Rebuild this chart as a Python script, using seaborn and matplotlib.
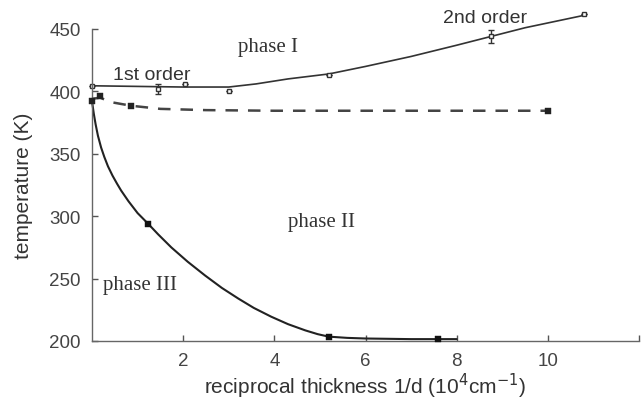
import numpy as np
import pandas as pd
import matplotlib
matplotlib.use("Agg")
import matplotlib.pyplot as plt
import seaborn as sns

# phase I / phase II boundary (solid, top)
upper_x = [0, 1, 2, 3, 3.6, 4.3, 5.2, 6, 7, 8, 8.75, 9.5, 10.8]
upper_y = [404.5, 404, 403.5, 403.5, 406, 410, 414, 420, 428, 437, 444, 451, 461]
upper_mx = [0, 1.45, 2.04, 3.0, 5.2, 8.75, 10.8]
upper_my = [404.5, 402, 406, 400.6, 413, 444, 462]
upper_err = [0, 4, 0, 0, 0, 5, 0]

# dashed boundary
dash_x = [0, 0.18, 0.4, 0.86, 1.5, 2.5, 4, 6, 8, 10]
dash_y = [394, 395, 391.5, 388.5, 386, 385, 384.5, 384.5, 384.5, 384.5]
dash_mx = [0, 0.18, 0.86, 10]
dash_my = [392.5, 396, 388.5, 384.5]

# phase II / phase III boundary
lower_x = [0, 0.04, 0.08, 0.13, 0.2, 0.27, 0.35, 0.45, 0.55, 0.64, 0.8, 1.0, 1.23, 1.45,
           1.74, 2.1, 2.48, 2.85, 3.21, 3.55, 3.93, 4.3, 4.68, 4.95, 5.19, 5.6, 6, 7, 8]
lower_y = [392, 382, 373.5, 364.5, 355, 347.5, 340, 332.5, 326, 320.5, 312, 302.5, 294, 285.5,
           275, 263.5, 252.5, 242.5, 234, 226.5, 219.5, 213.5, 208.5, 205.5, 203.5, 202.5, 202, 201.5, 201.5]
lower_mx = [1.23, 5.19, 7.6]
lower_my = [294, 203, 201.5]

xticks = [2, 4, 6, 8, 10, 12]
xtick_labels = ["2", "4", "6", "8", "10", ""]
yticks = [200, 250, 300, 350, 400, 450]

sns.set_style("ticks")
plt.rcParams["font.family"] = ["Liberation Sans", "DejaVu Sans"]

fig = plt.figure(figsize=(6.41, 4.06), dpi=100)
ax = fig.add_axes([92 / 641, 1 - 342 / 406, (639 - 92) / 641, (342 - 30) / 406])

line_col = "#333333"
sns.lineplot(x=upper_x, y=upper_y, ax=ax, color=line_col, lw=1.2, sort=False, clip_on=False)
sns.lineplot(x=dash_x, y=dash_y, ax=ax, color="#444444", lw=1.8, sort=False,
             linestyle=(0, (5, 4)), clip_on=False)
sns.lineplot(x=lower_x, y=lower_y, ax=ax, color="#222222", lw=1.5, sort=False, clip_on=False)

ax.errorbar(upper_mx, upper_my, yerr=upper_err, fmt="s", ms=3.5, mfc="white",
            mec=line_col, ecolor=line_col, elinewidth=1, capsize=2, clip_on=False)
sns.scatterplot(x=dash_mx, y=dash_my, ax=ax, marker="s", s=14, color="#222222",
                edgecolor="#222222", clip_on=False, zorder=5)
sns.scatterplot(x=lower_mx, y=lower_my, ax=ax, marker="s", s=14, color="#111111",
                edgecolor="#111111", clip_on=False, zorder=5)

ax.set_xlim(0, 12)
ax.set_ylim(200, 450)
ax.set_xticks(xticks)
ax.set_xticklabels(xtick_labels)
ax.set_yticks(yticks)
ax.tick_params(direction="in", length=4, width=1, color="#555555",
               labelsize=13.5, labelcolor="#444444", pad=8)
sns.despine(ax=ax)
for s in ["left", "bottom"]:
    ax.spines[s].set_color("#666666")
    ax.spines[s].set_linewidth(1)

ax.set_xlabel("reciprocal thickness 1/d (10$^4$cm$^{-1}$)", fontsize=15, color="#333333", labelpad=1)
ax.set_ylabel("temperature (K)", fontsize=15, color="#333333", labelpad=12)

serif = ["Liberation Serif", "DejaVu Serif"]
ax.text(3.2, 432, "phase I", family=serif, fontsize=15, color="#333333")
ax.text(4.3, 292, "phase II", family=serif, fontsize=15, color="#333333")
ax.text(0.25, 242, "phase III", family=serif, fontsize=15, color="#333333")
ax.text(0.45, 410, "1st order", fontsize=14, color="#333333")
ax.text(7.7, 456, "2nd order", fontsize=14, color="#333333")

fig.savefig("out.png", dpi=100)
